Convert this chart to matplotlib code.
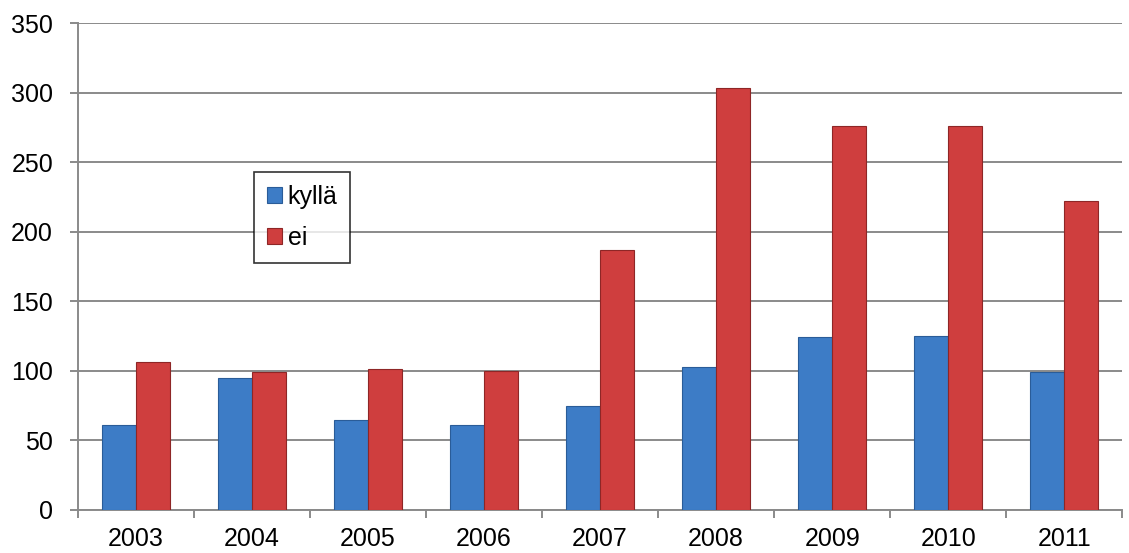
import numpy as np
import matplotlib.pyplot as plt
from matplotlib.ticker import FixedLocator

years = ['2003', '2004', '2005', '2006', '2007', '2008', '2009', '2010', '2011']
kylla = [61, 95, 65, 61, 75, 103, 124, 125, 99]
ei = [106, 99, 101, 100, 187, 303, 276, 276, 222]

plt.rcParams['font.family'] = ['Liberation Sans', 'DejaVu Sans']

fig = plt.figure(figsize=(11.29, 5.53), dpi=100)
ax = fig.add_axes([0.0691, 0.0778, 0.9249, 0.8806])

x = np.arange(len(years))
w = 0.295
ax.bar(x - w / 2, kylla, w, color='#3d7cc6', edgecolor='#2a5c98', linewidth=0.8,
       label='kyllä', zorder=3)
ax.bar(x + w / 2, ei, w, color='#cf3e3e', edgecolor='#8e2626', linewidth=0.8,
       label='ei', zorder=3)

ax.set_xlim(-0.5, len(years) - 0.5)
ax.set_ylim(0, 350)
ax.set_yticks(range(0, 351, 50))
ax.set_xticks(x)
ax.set_xticklabels(years)
ax.xaxis.set_minor_locator(FixedLocator(np.arange(-0.5, len(years), 1)))

ax.grid(axis='y', color='#8a8a8a', linewidth=1.4, zorder=0)
for s in ['top', 'right']:
    ax.spines[s].set_visible(False)
for s in ['left', 'bottom']:
    ax.spines[s].set_color('#8a8a8a')
    ax.spines[s].set_linewidth(1.4)

ax.tick_params(axis='x', which='major', length=0, labelsize=18, pad=12)
ax.tick_params(axis='x', which='minor', length=6, width=1.4, color='#8a8a8a')
ax.tick_params(axis='y', length=6, width=1.4, color='#8a8a8a', labelsize=18, pad=12)

leg = ax.legend(loc='upper left', bbox_to_anchor=(0.1686, 0.694), fontsize=18,
                frameon=True, fancybox=False, edgecolor='black', handlelength=0.6,
                handleheight=0.6, handletextpad=0.25, labelspacing=0.7,
                borderpad=0.5, borderaxespad=0)
leg.get_frame().set_linewidth(1.2)

fig.savefig('out.png', dpi=100)
